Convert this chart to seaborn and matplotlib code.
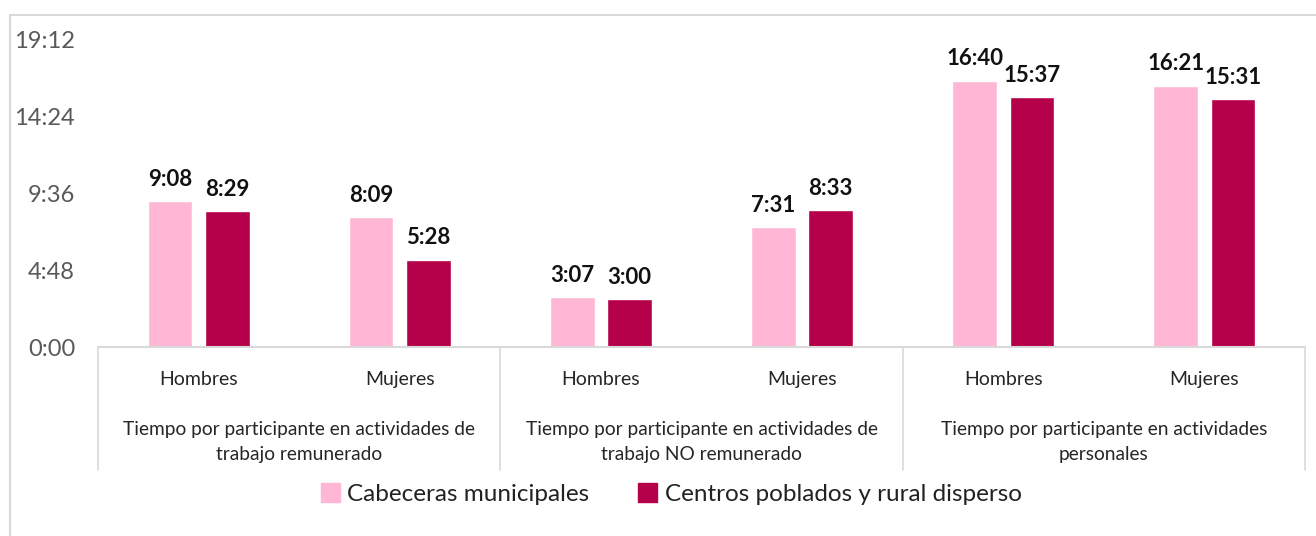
import matplotlib
matplotlib.use("Agg")
import matplotlib.pyplot as plt
from matplotlib.lines import Line2D
import pandas as pd
import seaborn as sns

# --------------------------------------------------------------------------
groups = ["Tiempo por participante en actividades de\ntrabajo remunerado",
          "Tiempo por participante en actividades de\ntrabajo NO remunerado",
          "Tiempo por participante en actividades\npersonales"]
sexes = ["Hombres", "Mujeres"]
series = ["Cabeceras municipales", "Centros poblados y rural disperso"]
cabeceras = ["9:08", "8:09", "3:07", "7:31", "16:40", "16:21"]
rural = ["8:29", "5:28", "3:00", "8:33", "15:37", "15:31"]
yticks = ["0:00", "4:48", "9:36", "14:24", "19:12"]
colors = ["#FFB7D5", "#B5004A"]
# --------------------------------------------------------------------------


def to_hours(s):
    h, m = s.split(":")
    return int(h) + int(m) / 60


keys = [f"{g}|{s}" for g in range(len(groups)) for s in sexes]
rows = []
for name, vals in zip(series, [cabeceras, rural]):
    for k, v in zip(keys, vals):
        rows.append({"cat": k, "zona": name, "horas": to_hours(v)})
df = pd.DataFrame(rows)

sns.set_style("white")
plt.rcParams["font.family"] = ["Lato", "DejaVu Sans"]

fig = plt.figure(figsize=(13.16, 5.36), dpi=100)
ax = fig.add_axes([98 / 1316, 189 / 536, 1207 / 1316, 307 / 536])

sns.barplot(data=df, x="cat", y="horas", hue="zona", order=keys,
            hue_order=series, palette=colors, width=0.57, gap=0.22,
            saturation=1, ax=ax, legend=False)

for cont, labels in zip(ax.containers, [cabeceras, rural]):
    ax.bar_label(cont, labels=labels, padding=8, fontsize=16,
                 fontweight="bold", color="#111111")

ax.set_xlim(-0.5, len(keys) - 0.5)
ax.set_ylim(0, 19.2)
ax.set_yticks([to_hours(t) for t in yticks])
ax.set_yticklabels(yticks, fontsize=17, color="#595959")
ax.tick_params(axis="y", length=0, pad=16.5)
ax.set_xticks([])
ax.set_xlabel("")
ax.set_ylabel("")
for sp in ax.spines.values():
    sp.set_visible(False)

# category axis drawn by hand
grid_col = "#D9D9D9"
trans = ax.get_xaxis_transform()
ax.plot([-0.5, len(keys) - 0.5], [0, 0], color=grid_col, lw=1.5,
        transform=trans, clip_on=False)
for i in range(len(groups) + 1):
    x = -0.5 + 2 * i
    ax.plot([x, x], [0, -0.40], color=grid_col, lw=1.2,
            transform=trans, clip_on=False)
for i, k in enumerate(keys):
    ax.text(i, -0.107, k.split("|")[1], ha="center", va="center",
            fontsize=14, color="#262626", transform=trans)
for g, name in enumerate(groups):
    ax.text(2 * g + 0.5, -0.31, name, ha="center", va="center",
            fontsize=13.8, color="#262626", linespacing=1.6, transform=trans)

handles = [plt.Rectangle((0, 0), 1, 1, color=c) for c in colors]
fig.legend(handles, series, loc="center", bbox_to_anchor=(0.51, 0.078),
           ncol=2, frameon=False, fontsize=17.5, handlelength=0.8,
           handleheight=0.8, handletextpad=0.3, columnspacing=2.0,
           labelcolor="#222222")

# outer chart frame
fig.add_artist(Line2D([10 / 1316, 1], [1 - 15 / 536] * 2,
                      color=grid_col, lw=1.5))
fig.add_artist(Line2D([10 / 1316] * 2, [0, 1 - 15 / 536],
                      color=grid_col, lw=1.5))

fig.savefig("out.png", dpi=100)
